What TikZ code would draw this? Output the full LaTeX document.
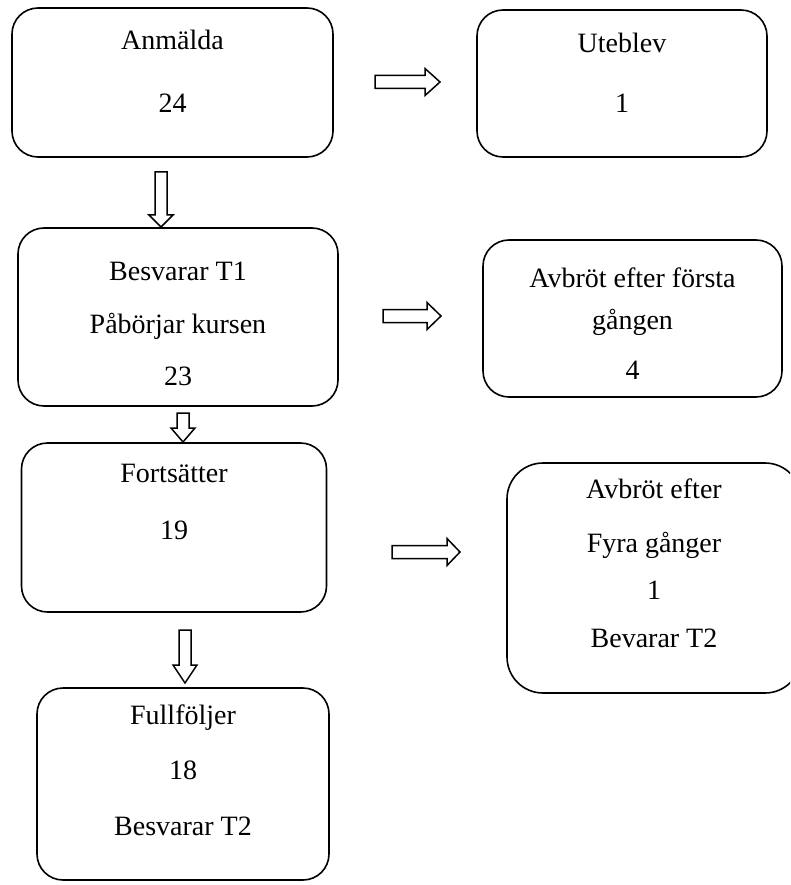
\documentclass[tikz,border=0pt]{standalone}
\usepackage{fontspec}
\setmainfont{Liberation Serif}

% hollow block arrows: tail point, shaft length, head length
\newcommand{\blockright}[3]{%
  \draw[block] (#1) ++(0,-6.5) -- ++(#2,0) -- ++(0,-7) -- ++(#3,13.5)
     -- ++(-#3,13.5) -- ++(0,-7) -- ++(-#2,0) -- cycle;}
\newcommand{\blockdown}[3]{%
  \draw[block] (#1) ++(-6,0) -- ++(0,#2) -- ++(-6,0) -- ++(12,#3)
     -- ++(12,-#3) -- ++(-6,0) -- ++(0,-#2) -- cycle;}

\begin{document}
\begin{tikzpicture}[x=1pt,y=-1pt,
    box/.style={draw,line width=1.6pt,rounded corners=26pt,inner sep=0pt},
    label/.style={font=\fontsize{28}{34}\selectfont,align=center,
                  anchor=north,inner sep=0pt},
    block/.style={draw,line width=1.5pt,line join=miter,fill=white}]
\useasboundingbox (0,0) rectangle (790,885);
\clip (0,0) rectangle (790,885);

% left column
\node[box,minimum width=321pt,minimum height=149pt] (anm) at (172.5,82.5) {};
\node[label] (anmtxt) at (172.5,30) {Anmälda\\[29pt]24};

\node[box,minimum width=320pt,minimum height=178pt] (t1) at (178,317) {};
\node[label] (t1txt) at (178,262) {Besvarar T1\\[19pt]Påbörjar kursen\\[18pt]23};

\node[box,minimum width=305pt,minimum height=169pt] (fort) at (174,527.5) {};
\node[label] (forttxt) at (174,464) {Fortsätter\\[23pt]19};

\node[box,minimum width=292pt,minimum height=192pt] (full) at (183,784) {};
\node[label] (fulltxt) at (183,705) {Fullföljer\\[21pt]18\\[22pt]Besvarar T2};

% right column
\node[box,minimum width=290pt,minimum height=147pt] (ute) at (622,83.5) {};
\node[label] (utetxt) at (622,33) {Uteblev\\[26pt]1};

\node[box,minimum width=299pt,minimum height=157pt] (forsta) at (632.5,318.5) {};
\node[label] (forstatxt) at (632.5,268) {Avbröt efter första\\[8pt]gången\\[16pt]4};

\node[box,minimum width=294pt,minimum height=230pt,rounded corners=36pt] (fyra) at (654,578) {};
\node[label] (fyratxt) at (654,479) {Avbröt efter\\[20pt]Fyra gånger\\[13pt]1\\[14pt]Bevarar T2};

% arrows
\coordinate (r1) at (375,82);
\coordinate (r2) at (383,316);
\coordinate (r3) at (392,552);
\coordinate (d1) at (161,172);
\coordinate (d2) at (183,413);
\coordinate (d3) at (185,630);
\blockright{r1}{50}{15}
\blockright{r2}{44}{14}
\blockright{r3}{55}{13}
\blockdown{d1}{43}{12}
\blockdown{d2}{15}{14}
\blockdown{d3}{35}{18}
\end{tikzpicture}
\end{document}
